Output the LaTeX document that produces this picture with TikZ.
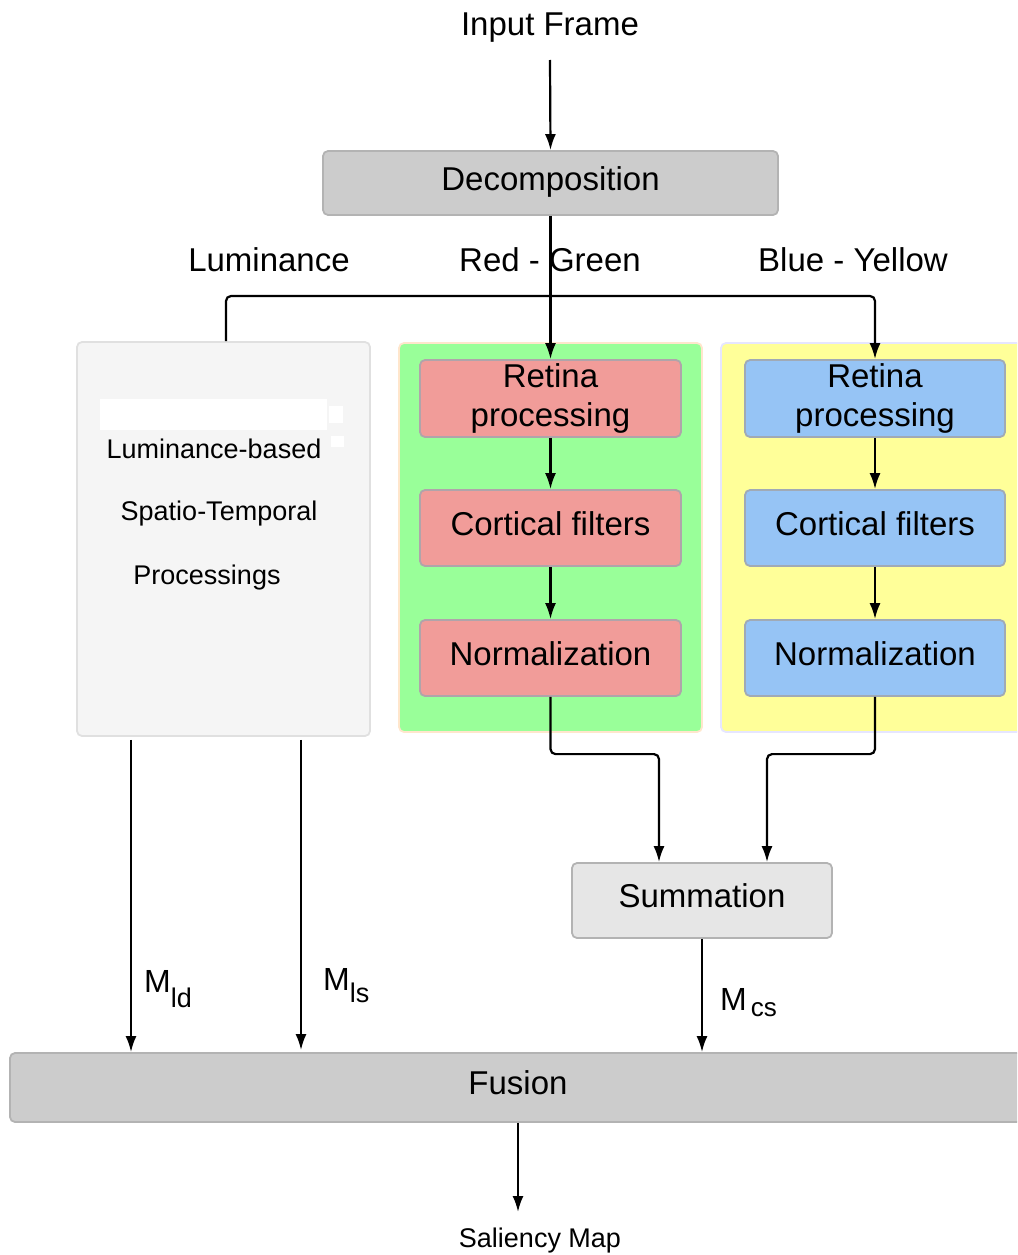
\documentclass[tikz,border=0pt]{standalone}
\usepackage{fontspec}
\setmainfont{Liberation Sans}
\usetikzlibrary{arrows.meta,calc}
\definecolor{greyfill}{HTML}{CCCCCC}
\definecolor{greyline}{HTML}{B3B3B3}
\definecolor{lightfill}{HTML}{E6E6E6}
\definecolor{lumfill}{HTML}{F5F5F5}
\definecolor{lumline}{HTML}{E0E0E0}
\definecolor{greenfill}{HTML}{99FF99}
\definecolor{greenline}{HTML}{FFE6CC}
\definecolor{yellowfill}{HTML}{FFFF99}
\definecolor{yellowline}{HTML}{E6E6FF}
\definecolor{pinkfill}{HTML}{F19C99}
\definecolor{pinkline}{HTML}{B0A4AA}
\definecolor{bluefill}{HTML}{96C4F5}
\definecolor{blueline}{HTML}{A0AAB6}
\tikzset{
  big/.style={font=\fontsize{33}{40}\selectfont},
  mid/.style={font=\fontsize{27}{32}\selectfont},
  boxbase/.style={rounded corners=5pt, line width=1.8pt, inner sep=0pt, align=center, big},
  oneline/.style={text height=24pt, text depth=10pt},
  greybox/.style={boxbase, oneline, fill=greyfill, draw=greyline},
  sumbox/.style={boxbase, oneline, fill=lightfill, draw=greyline},
  pinkbox/.style={boxbase, fill=pinkfill, draw=pinkline, minimum width=261pt, minimum height=76pt},
  bluebox/.style={boxbase, fill=bluefill, draw=blueline, minimum width=260pt, minimum height=76pt},
  panel/.style={rounded corners=5pt, line width=1.8pt, inner sep=0pt},
  conn/.style={line width=2.2pt, draw=black},
  arr/.style={conn, -{Latex[length=16pt,width=11pt]}},
}
\begin{document}
\begin{tikzpicture}[x=1pt,y=-1pt]
\useasboundingbox (0,0) rectangle (1017,1255);
\clip (0,0) rectangle (1017,1255);

% top
\node[big] (inframe) at (550,28) {Input Frame};
\coordinate (inbot) at (550,60);
\node[greybox, minimum width=455pt, minimum height=64pt] (dec) at (550.5,183) {Decomposition};
\draw[arr] (inbot) -- (dec.north);

% channel labels
\node[big] (lLum) at (269,260) {Luminance};
\node[big] (lRG) at (550,260) {Red - Green};
\node[big] (lBY) at (853,260) {Blue - Yellow};

% panels
\node[panel, fill=lumfill, draw=lumline, minimum width=293pt, minimum height=394pt] (lumbox) at (223.5,539) {};
\fill[white] (100,399) rectangle (327,430);
\fill[white] (329,406) rectangle (343,423);
\fill[white] (331,436) rectangle (344,447);
\node[mid] (t1) at (214,449) {Luminance-based};
\node[mid] (t2) at (219,514) {Spatio-Temporal};
\node[mid] (t3) at (207,578) {Processings};

\node[panel, fill=greenfill, draw=greenline, minimum width=303pt, minimum height=389pt] (green) at (550.5,537.5) {};
\node[panel, fill=yellowfill, draw=yellowline, minimum width=309pt, minimum height=389pt] (yellow) at (875.5,537.5) {};

% red-green chain
\node[pinkbox, minimum height=77pt] (rg1) at (550.5,398.5) {Retina\\[-1pt]processing};
\node[pinkbox, oneline] (rg2) at (550.5,528) {Cortical filters};
\node[pinkbox, oneline] (rg3) at (550.5,658) {Normalization};
% blue-yellow chain
\node[bluebox, minimum height=77pt] (by1) at (875,398.5) {Retina\\[-1pt]processing};
\node[bluebox, oneline] (by2) at (875,528) {Cortical filters};
\node[bluebox, oneline] (by3) at (875,658) {Normalization};

\draw[arr] (dec.south) -- (rg1.north);
\coordinate (lt) at (226,341);
\draw[arr, rounded corners=5pt] (lt) |- (875,296) -- (by1.north);
\draw[arr] (rg1) -- (rg2);
\draw[arr] (rg2) -- (rg3);
\draw[arr] (by1) -- (by2);
\draw[arr] (by2) -- (by3);

% summation
\node[sumbox, minimum width=260pt, minimum height=75pt] (sum) at (702,900.5) {Summation};
\draw[arr, rounded corners=5pt] (rg3.south) |- ($(sum.north)+(-43,-108)$) -- ($(sum.north)+(-43,0)$);
\draw[arr, rounded corners=5pt] (by3.south) |- ($(sum.north)+(65,-108)$) -- ($(sum.north)+(65,0)$);

% fusion
\node[greybox, minimum width=1016pt, minimum height=69pt] (fusion) at (518,1087.5) {Fusion};
\draw[arr] ($(lumbox.south)+(-92.5,3)$) -- ($(fusion.north)+(-387,0)$);
\draw[arr] ($(lumbox.south)+(77.5,3)$) -- ($(fusion.north)+(-217,-2)$);
\draw[arr] (sum.south) -- (sum.south |- fusion.north);

% M labels
\node[anchor=base west, inner sep=0pt, font=\fontsize{32}{36}\selectfont] (mld) at (144,992)
  {M\raisebox{-15pt}{\fontsize{27}{30}\selectfont ld}};
\node[anchor=base west, inner sep=0pt, font=\fontsize{32}{36}\selectfont] (mls) at (323,990)
  {M\raisebox{-12pt}{\fontsize{27}{30}\selectfont ls}};
\node[anchor=base west, inner sep=0pt, font=\fontsize{32}{36}\selectfont] (mcs) at (720,1010)
  {M\kern4pt\raisebox{-6pt}{\fontsize{26}{30}\selectfont cs}};

% output
\node[mid] (sal) at (540,1241) {Saliency Map};
\coordinate (salin) at (518,1212);
\draw[arr] (fusion.south) -- (salin);
\end{tikzpicture}
\end{document}
